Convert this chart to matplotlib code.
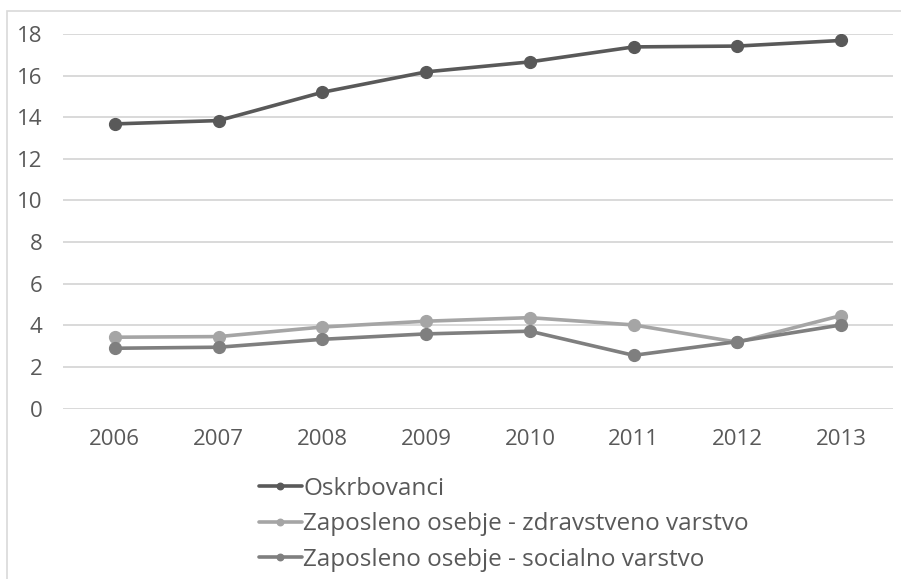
import matplotlib
matplotlib.use("Agg")
import matplotlib.pyplot as plt
from matplotlib.patches import Rectangle

years = ["2006", "2007", "2008", "2009", "2010", "2011", "2012", "2013"]
oskrbovanci = [13.68, 13.84, 15.20, 16.18, 16.66, 17.38, 17.42, 17.69]
zdravstveno = [3.43, 3.46, 3.92, 4.20, 4.37, 4.02, 3.19, 4.47]
socialno = [2.90, 2.95, 3.33, 3.59, 3.72, 2.56, 3.22, 4.02]
labels = [
    "Oskrbovanci",
    "Zaposleno osebje - zdravstveno varstvo",
    "Zaposleno osebje - socialno varstvo",
]
y_ticks = [0, 2, 4, 6, 8, 10, 12, 14, 16, 18]

plt.rcParams["font.family"] = ["Open Sans", "DejaVu Sans"]
text_color = "#595959"
grid_color = "#d9d9d9"

W, H = 901, 579
fig = plt.figure(figsize=(W / 100, H / 100), dpi=100)

# chart area frame
fig.patches.append(Rectangle((7 / W, -0.05), 1.0, 1 - 11 / H + 0.05,
                             transform=fig.transFigure, fill=False,
                             edgecolor=grid_color, linewidth=1.2))

left, right = 63 / W, 893 / W
top, bottom = 1 - 34 / H, 1 - 408.6 / H
ax = fig.add_axes([left, bottom, right - left, top - bottom])

x = list(range(len(years)))
series = [
    (oskrbovanci, "#595959"),
    (zdravstveno, "#a5a5a5"),
    (socialno, "#7f7f7f"),
]
handles = []
for (vals, col), lab in zip(series, labels):
    h, = ax.plot(x, vals, color=col, linewidth=2.6, marker="o",
                 markersize=8.5, label=lab, solid_capstyle="round", zorder=3)
    handles.append(h)

ax.set_xlim(-0.5, len(years) - 0.5)
ax.set_ylim(0, 18)
ax.set_yticks(y_ticks)
ax.set_xticks(x)
ax.set_xticklabels(years)
ax.yaxis.grid(True, color=grid_color, linewidth=1.4)
ax.set_axisbelow(True)
for s in ax.spines.values():
    s.set_visible(False)
ax.tick_params(axis="both", length=0, labelsize=16, colors=text_color)
ax.tick_params(axis="x", pad=14.5)
ax.tick_params(axis="y", pad=15)

leg = fig.legend(handles=handles, labels=labels, loc="upper left",
                 bbox_to_anchor=(259 / W, 1 - 477 / H), frameon=False,
                 borderpad=0, borderaxespad=0,
                 fontsize=17.5, labelcolor=text_color, handlelength=1.75,
                 handletextpad=0.08, labelspacing=0.47, markerscale=0.55)

fig.savefig("out.png", dpi=100, facecolor="white")
